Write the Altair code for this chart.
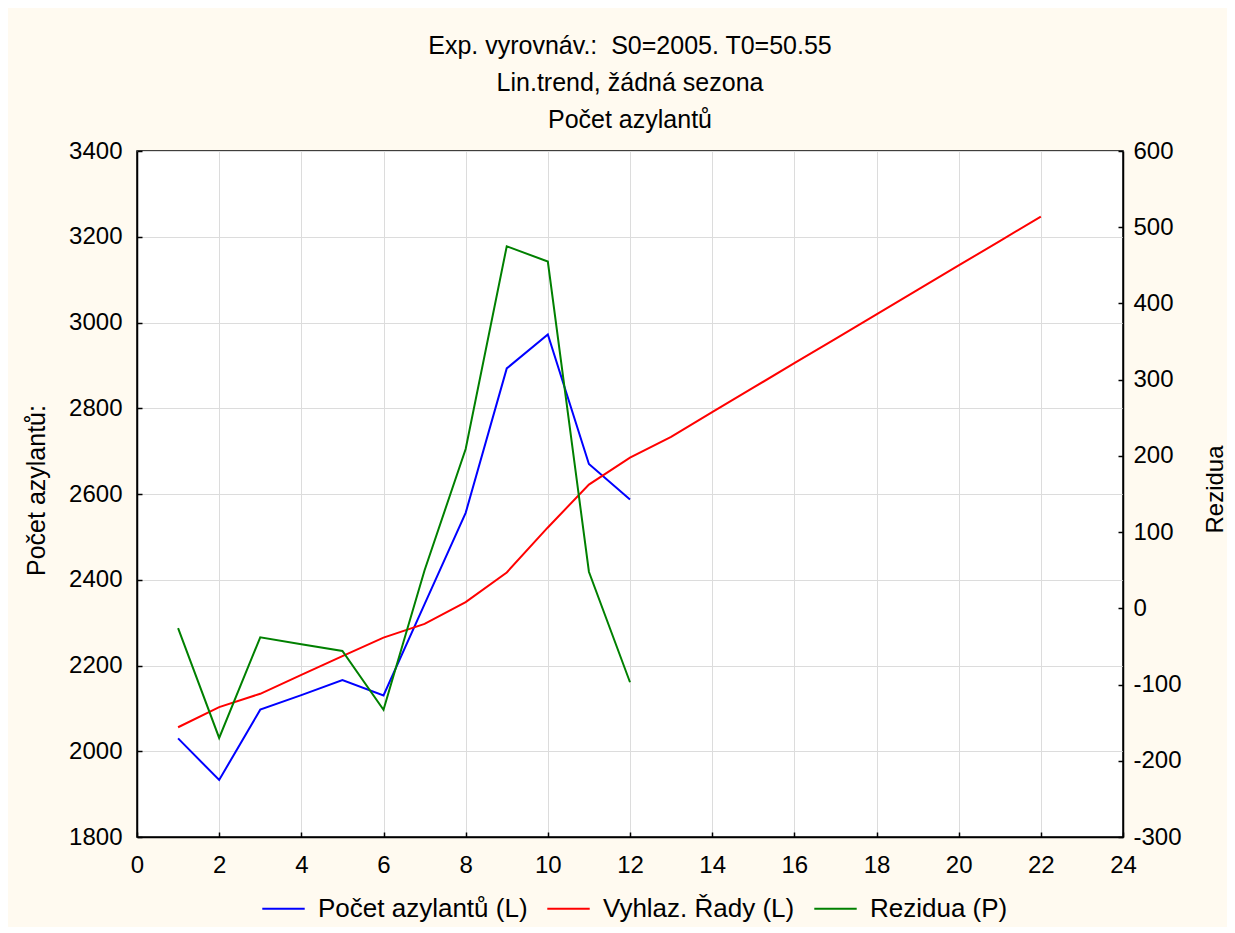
import altair as alt
import pandas as pd

# ---- data ----
x_obs = list(range(1, 13))
pocet_azylantu = [2030, 1933, 2097, 2131, 2166, 2130, 2343, 2556, 2893, 2972, 2670, 2587]
x_smooth = list(range(1, 23))
vyhlaz_rady = [2056, 2103, 2134, 2178, 2222, 2265, 2297, 2348, 2417, 2522, 2622,
               2685, 2733, 2791, 2848, 2905, 2962, 3019, 3076, 3133, 3190, 3247]
rezidua = [-26, -170, -38, -47, -56, -133, 50, 209, 475, 455, 48, -97]

series_names = ["Počet azylantů (L)", "Vyhlaz. Řady (L)", "Rezidua (P)"]
series_colors = ["#0000ff", "#ff0000", "#008000"]
x_ticks = list(range(0, 25, 2))
left_ticks = list(range(1800, 3401, 200))
right_ticks = list(range(-300, 601, 100))
title_lines = ["Exp. vyrovnáv.:\u00a0 S0=2005. T0=50.55", "Lin.trend, žádná sezona", "Počet azylantů"]
left_title = "Počet azylantů:"
right_title = "Rezidua"

df_blue = pd.DataFrame({"t": x_obs, "v": pocet_azylantu, "s": series_names[0]})
df_red = pd.DataFrame({"t": x_smooth, "v": vyhlaz_rady, "s": series_names[1]})
df_green = pd.DataFrame({"t": x_obs, "v": rezidua, "s": series_names[2]})

W, H = 986, 686
FONT = "Liberation Sans"
PLAIN = "datum.value + ''"

x_scale = alt.Scale(domain=[0, 24], nice=False, zero=False)
yl_scale = alt.Scale(domain=[1800, 3400], nice=False, zero=False)
yr_scale = alt.Scale(domain=[-300, 600], nice=False, zero=False)

color = alt.Color(
    "s:N",
    scale=alt.Scale(domain=series_names, range=series_colors),
    title=None,
    legend=alt.Legend(
        orient="none", legendX=124, legendY=735, direction="horizontal", columns=3,
        symbolType="stroke", symbolSize=1800, symbolStrokeWidth=2,
        labelFontSize=26, labelFont=FONT, labelColor="black", labelOffset=12,
        columnPadding=15, labelLimit=0, padding=0,
    ),
)

def tick_axis(orient, offset, values):
    return alt.Axis(orient=orient, offset=offset, values=values, labels=False, grid=False,
                    domain=False, ticks=True, tickSize=5, tickColor="black", tickWidth=1.5)

# left group: blue + red
l1 = alt.Chart(df_blue).mark_line(strokeWidth=2).encode(
    x=alt.X("t:Q", scale=x_scale, title=None,
            axis=alt.Axis(orient="bottom", values=x_ticks, grid=True, ticks=False, tickSize=0,
                          labelPadding=16, labelFlush=False, labelExpr=PLAIN, domain=True)),
    y=alt.Y("v:Q", scale=yl_scale, title=left_title,
            axis=alt.Axis(orient="left", values=left_ticks, grid=True, ticks=False, tickSize=0,
                          labelPadding=15, labelFlush=False, labelExpr=PLAIN, domain=True,
                          titleX=-101, titleY=339, titleFontSize=25,
                          titleAngle=270, titleAlign="center", titleBaseline="middle")),
    color=color,
)
l2 = alt.Chart(df_red).mark_line(strokeWidth=2).encode(
    x=alt.X("t:Q", scale=x_scale, title=None, axis=tick_axis("top", -H, x_ticks)),
    y=alt.Y("v:Q", scale=yl_scale, title=None, axis=tick_axis("right", -W, left_ticks)),
    color=color,
)
left = alt.layer(l1, l2)

# right group: residuals
r1 = alt.Chart(df_green).mark_line(strokeWidth=2).encode(
    x=alt.X("t:Q", scale=x_scale, title=None, axis=tick_axis("bottom", -H, x_ticks)),
    y=alt.Y("v:Q", scale=yr_scale, title=right_title,
            axis=alt.Axis(orient="right", values=right_ticks, grid=False, ticks=False, tickSize=0,
                          labelPadding=10, labelFlush=False, labelExpr=PLAIN, domain=True,
                          titleX=92, titleY=338, titleFontSize=24,
                          titleAngle=270, titleAlign="center", titleBaseline="middle")),
    color=color,
)
r2 = alt.Chart(df_green).mark_line(strokeWidth=2, opacity=0).encode(
    x=alt.X("t:Q", scale=x_scale, title=None, axis=None),
    y=alt.Y("v:Q", scale=yr_scale, title=None, axis=tick_axis("left", -W, right_ticks)),
)
right = alt.layer(r1, r2)

chart = alt.layer(left, right).resolve_scale(y="independent").properties(
    width=W, height=H,
    title=alt.Title(text=title_lines, fontSize=25, font=FONT, fontWeight="normal",
                    color="black", lineHeight=37, anchor="middle", frame="group", offset=6),
    padding={"left": 129, "top": 143, "right": 104, "bottom": 90},
    autosize=alt.AutoSizeParams(type="none"),
    background="#fffaf0",
).configure(font=FONT).configure_view(
    fill="white", stroke="black", strokeWidth=1.5
).configure_axis(
    labelColor="black", labelFont=FONT, labelFontSize=24,
    titleFont=FONT, titleColor="black", titleFontWeight="normal", titleFontSize=25,
    domainColor="black", domainWidth=1.5, gridColor="#dcdcdc", gridWidth=1,
)

chart.save("out.html", embed_options={"renderer": "svg", "actions": False})
